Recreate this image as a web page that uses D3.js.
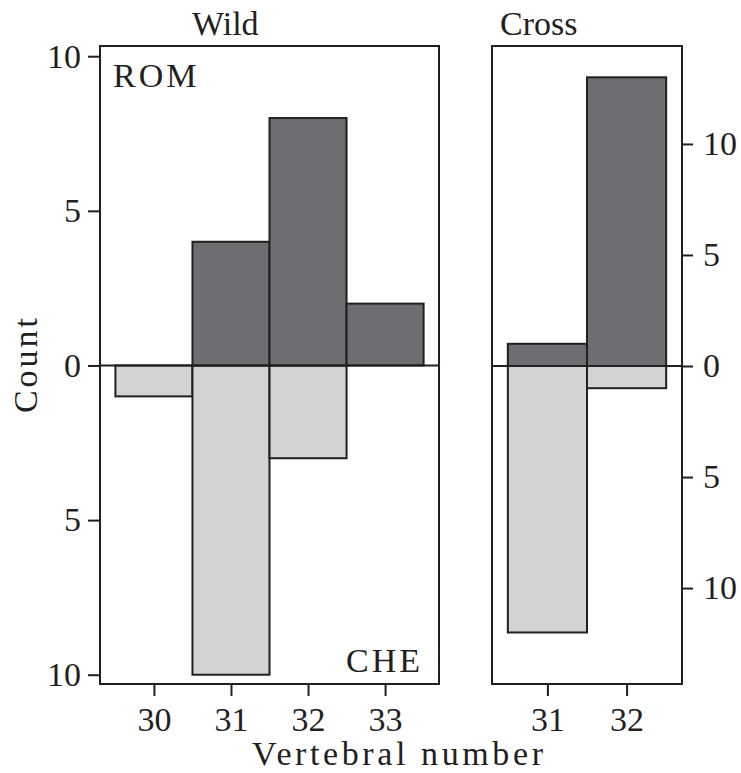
<!DOCTYPE html>
<html>
<head>
<meta charset="utf-8">
<script src="https://cdn.jsdelivr.net/npm/d3@7"></script>
<style>
    body { margin: 0; background: #fff; }
    text { font-family: "Liberation Serif", serif; fill: #231f20; }
</style>
</head>
<body>
<svg id="chart" width="741" height="773"></svg>
<script>

// Vertebral number counts, ROM above zero, CHE below zero
const wildVertebrae = [30, 31, 32, 33];
const wildROM = [0, 4, 8, 2];
const wildCHE = [1, 10, 3, 0];

const crossVertebrae = [31, 32];
const crossROM = [1, 13];
const crossCHE = [12, 1];

const wildYTicks = [-10, -5, 0, 5, 10];
const crossYTicks = [-10, -5, 0, 5, 10];

const ink = "#231f20";
const romColor = "#6d6e71";
const cheColor = "#d1d3d4";

const svg = d3.select("#chart");

/**
 * Draws one panel: box, ROM bars going up, CHE bars going down, zero line.
 */
function drawPanel(opts) {
    let xScale = d3.scaleLinear()
        .domain(opts.xDomain)
        .range(opts.xRange);

    let yScale = d3.scaleLinear()
        .domain(opts.yDomain)
        .range(opts.yRange);

    let g = svg.append("g");

    let rom = opts.vertebrae.map((v, i) => ({v: v, n: opts.rom[i]})).filter(d => d.n > 0);
    let che = opts.vertebrae.map((v, i) => ({v: v, n: opts.che[i]})).filter(d => d.n > 0);

    g.selectAll(".che")
        .data(che)
        .join("rect")
        .attr("class", "che")
        .attr("x", d => xScale(d.v - 0.5))
        .attr("y", yScale(0))
        .attr("width", d => xScale(d.v + 0.5) - xScale(d.v - 0.5))
        .attr("height", d => yScale(-d.n) - yScale(0))
        .attr("fill", cheColor)
        .attr("stroke", ink)
        .attr("stroke-width", 2);

    g.selectAll(".rom")
        .data(rom)
        .join("rect")
        .attr("class", "rom")
        .attr("x", d => xScale(d.v - 0.5))
        .attr("y", d => yScale(d.n))
        .attr("width", d => xScale(d.v + 0.5) - xScale(d.v - 0.5))
        .attr("height", d => yScale(0) - yScale(d.n))
        .attr("fill", romColor)
        .attr("stroke", ink)
        .attr("stroke-width", 2);

    // zero line
    g.append("line")
        .attr("x1", opts.xRange[0])
        .attr("x2", opts.xRange[1])
        .attr("y1", yScale(0))
        .attr("y2", yScale(0))
        .attr("stroke", ink)
        .attr("stroke-width", 2);

    // box
    g.append("rect")
        .attr("x", opts.xRange[0])
        .attr("y", opts.yRange[1])
        .attr("width", opts.xRange[1] - opts.xRange[0])
        .attr("height", opts.yRange[0] - opts.yRange[1])
        .attr("fill", "none")
        .attr("stroke", ink)
        .attr("stroke-width", 2);

    // x axis
    let xAxis = g.append("g")
        .attr("transform", "translate(0," + opts.yRange[0] + ")")
        .call(d3.axisBottom(xScale).tickValues(opts.vertebrae).tickSize(12).tickPadding(11).tickFormat(d3.format("d")));

    // y axis, absolute counts on both sides of zero
    let yAxisFn = opts.yAxisRight ? d3.axisRight(yScale) : d3.axisLeft(yScale);
    let yAxis = g.append("g")
        .attr("transform", "translate(" + (opts.yAxisRight ? opts.xRange[1] : opts.xRange[0]) + ",0)")
        .call(yAxisFn.tickValues(opts.yTicks).tickSize(opts.yAxisRight ? 11 : 12)
            .tickPadding(opts.yAxisRight ? 10 : 7).tickFormat(d => Math.abs(d)));

    [xAxis, yAxis].forEach(a => {
        a.select(".domain").remove();
        a.selectAll(".tick line").attr("stroke", ink).attr("stroke-width", 2);
        a.selectAll(".tick text")
            .attr("fill", ink)
            .style("font-family", "'Liberation Serif', serif")
            .style("font-size", "34px");
    });

    g.append("text")
        .attr("x", opts.titleX)
        .attr("y", 35)
        .style("font-size", "34px")
        .text(opts.title);

    return g;
}

drawPanel({
    title: "Wild",
    titleX: 192,
    vertebrae: wildVertebrae,
    rom: wildROM,
    che: wildCHE,
    xDomain: [29.3, 33.7],
    xRange: [100, 439],
    yDomain: [-10.3, 10.33],
    yRange: [684, 46],
    yTicks: wildYTicks,
    yAxisRight: false
});

drawPanel({
    title: "Cross",
    titleX: 500,
    vertebrae: crossVertebrae,
    rom: crossROM,
    che: crossCHE,
    xDomain: [30.3, 32.7],
    xRange: [492, 682],
    yDomain: [-14.32, 14.41],
    yRange: [684, 46],
    yTicks: crossYTicks,
    yAxisRight: true
});

// group labels
svg.append("text")
    .attr("x", 113)
    .attr("y", 87)
    .style("font-size", "34px")
    .style("letter-spacing", "3px")
    .text("ROM");

svg.append("text")
    .attr("x", 346)
    .attr("y", 672)
    .style("font-size", "34px")
    .style("letter-spacing", "3px")
    .text("CHE");

// axis titles
svg.append("text")
    .attr("x", 252)
    .attr("y", 765)
    .style("font-size", "34px")
    .style("letter-spacing", "3.6px")
    .text("Vertebral number");

svg.append("text")
    .attr("transform", "translate(37,364) rotate(-90)")
    .attr("text-anchor", "middle")
    .style("font-size", "34px")
    .style("letter-spacing", "3px")
    .text("Count");

</script>
</body>
</html>
